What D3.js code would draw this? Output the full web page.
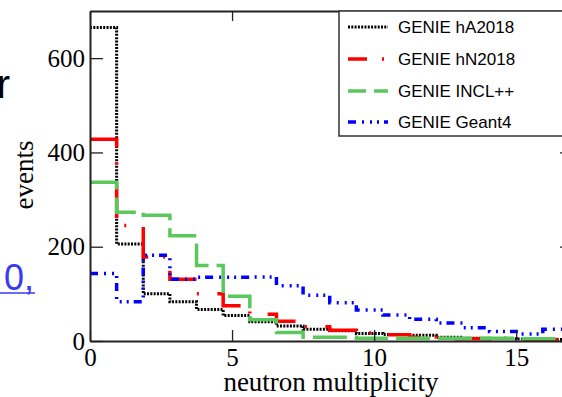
<!DOCTYPE html>
<html>
<head>
<meta charset="utf-8">
<script src="https://cdn.jsdelivr.net/npm/d3@7"></script>
<style>
  body { margin: 0; background: #fff; }
  svg { display: block; }
</style>
</head>
<body>
<svg id="chart" width="562" height="397"></svg>
<script>
// bin width of the histograms (in neutron multiplicity units)
var binWidth = 0.9375;

// events per bin
var hA2018 = [665, 206, 100, 83, 67, 54, 41, 32, 25, 22, 16, 14, 12, 8, 6, 5, 4, 3];
var hN2018 = [428, 245, 178, 131, 100, 75, 57, 42, 30, 23, 17, 13, 8, 5, 5, 6, 3, 3];
var inclpp = [337, 273, 267, 223, 160, 95, 45, 18, 8, 8, 6, 6, 6, 6, 6, 6, 5, 5];
var geant4 = [143, 83, 182, 131, 135, 135, 136, 117, 97, 81, 66, 55, 46, 38, 28, 20, 15, 25];

var seriesNames = ["GENIE hA2018", "GENIE hN2018", "GENIE INCL++", "GENIE Geant4"];
var seriesColors = ["#000000", "#ff0000", "#5ac85a", "#0000ff"];
var seriesDash = ["2,1.3", "35,15,2,18.5", "34,8", "8,6,2,6,2,5,2,5"];
var legendDashOffset = [0, 16, 16, 0];
var seriesWidth = [3, 3.5, 3.5, 3.5];

var xTicks = [0, 5, 10, 15];
var yTicks = [0, 200, 400, 600];

var svg = d3.select("#chart");

// scales
var x = d3.scaleLinear().domain([0, 17]).range([90, 573]);
var y = d3.scaleLinear().domain([0, 700]).range([341, 11]);

// stray text from the page around the figure
svg.append("text")
    .attr("x", 10).attr("y", 98)
    .attr("text-anchor", "end")
    .style("font", "40px 'Liberation Sans'")
    .text("r");
svg.append("text")
    .attr("x", 34).attr("y", 290)
    .attr("text-anchor", "end")
    .style("font", "36px 'Liberation Sans'")
    .style("fill", "#3a3aee")
    .text("0,");
svg.append("line")
    .attr("x1", 0).attr("x2", 35).attr("y1", 293).attr("y2", 293)
    .style("stroke", "#3a3aee").style("stroke-width", 1.5);

/////////////// histograms ///////////////
var allSeries = [hA2018, hN2018, inclpp, geant4];

svg.append("clipPath").attr("id", "plotClip")
    .append("rect")
    .attr("x", x(0) + 1).attr("y", 0)
    .attr("width", x(17) - x(0)).attr("height", y(0));

var histG = svg.append("g").attr("clip-path", "url(#plotClip)");

// draw order: black, red, green, blue (green sits over red in the original)
[0, 1, 2, 3].forEach(function (k) {
    var vals = allSeries[k];
    var pts = vals.map(function (v, i) { return [i * binWidth, v]; });
    pts.push([vals.length * binWidth, vals[vals.length - 1]]);
    var step = d3.line()
        .x(function (d) { return x(d[0]); })
        .y(function (d) { return y(d[1]); })
        .curve(d3.curveStepAfter);
    histG.append("path")
        .attr("d", step(pts))
        .style("fill", "none")
        .style("stroke", seriesColors[k])
        .style("stroke-width", seriesWidth[k])
        .style("stroke-dasharray", seriesDash[k]);
});

/////////////// axes ///////////////
var axisFont = "25px 'Liberation Serif'";

var gx = svg.append("g")
    .attr("transform", "translate(0," + y(0) + ")")
    .call(d3.axisBottom(x).tickValues(xTicks).tickSizeInner(-11).tickSizeOuter(0).tickPadding(7));
var gxTop = svg.append("g")
    .attr("transform", "translate(0," + y(700) + ")")
    .call(d3.axisTop(x).tickValues(xTicks).tickSizeInner(-10).tickSizeOuter(0).tickFormat(""));
var gy = svg.append("g")
    .attr("transform", "translate(" + x(0) + ",0)")
    .call(d3.axisLeft(y).tickValues(yTicks).tickSizeInner(-13).tickSizeOuter(0).tickPadding(5));
var gyRight = svg.append("g")
    .attr("transform", "translate(" + x(17) + ",0)")
    .call(d3.axisRight(y).tickValues(yTicks).tickSizeInner(-13).tickSizeOuter(0).tickFormat(""));

[gx, gxTop, gy, gyRight].forEach(function (g) {
    g.selectAll(".domain").style("stroke", "#222").style("stroke-width", 2);
    g.selectAll(".tick line").style("stroke", "#222").style("stroke-width", 1.3);
    g.selectAll("text").style("font", axisFont).style("fill", "#000");
});

// axis titles
svg.append("text")
    .attr("x", 331).attr("y", 391)
    .attr("text-anchor", "middle")
    .style("font", "27px 'Liberation Serif'")
    .text("neutron multiplicity");
svg.append("text")
    .attr("transform", "translate(33,175) rotate(-90)")
    .attr("text-anchor", "middle")
    .style("font", "27px 'Liberation Serif'")
    .text("events");

/////////////// legend ///////////////
svg.append("rect")
    .attr("x", 339).attr("y", 11).attr("width", 260).attr("height", 125)
    .style("fill", "#fff").style("stroke", "#333").style("stroke-width", 1.5);

var legendY = [27, 59, 91, 122];
seriesNames.forEach(function (name, k) {
    svg.append("line")
        .attr("x1", 348).attr("x2", 388)
        .attr("y1", legendY[k]).attr("y2", legendY[k])
        .style("stroke", seriesColors[k])
        .style("stroke-width", seriesWidth[k])
        .style("stroke-dasharray", seriesDash[k])
        .style("stroke-dashoffset", legendDashOffset[k]);
    svg.append("text")
        .attr("x", 398).attr("y", legendY[k] + 6)
        .style("font", "17px 'Liberation Sans'")
        .text(name);
});
</script>
</body>
</html>
